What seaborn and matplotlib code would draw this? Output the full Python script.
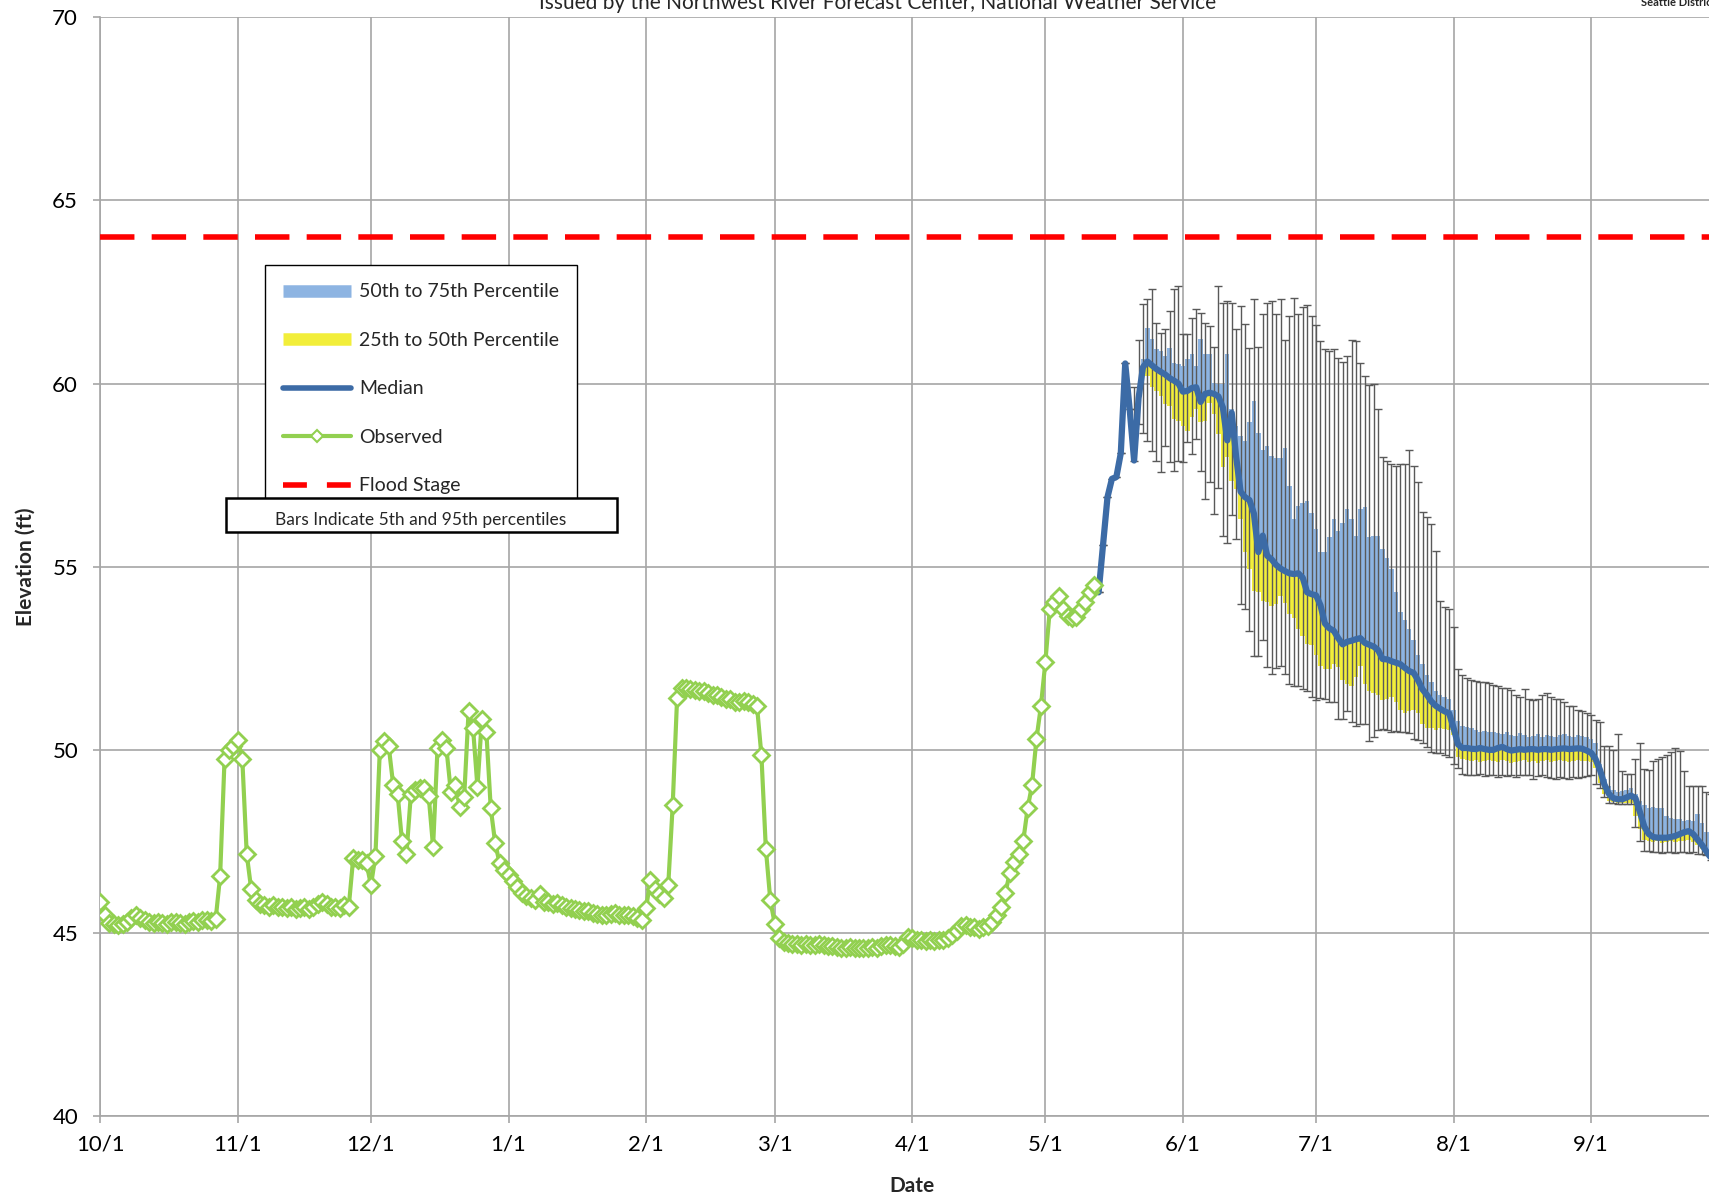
import pandas as pd
import matplotlib
matplotlib.use("Agg")
import matplotlib.pyplot as plt
from matplotlib.lines import Line2D
from matplotlib.patches import Rectangle
import seaborn as sns

# observed stage (ft), one reading a day from 10/1/2011
obs_start = "2011-10-01"
observed = [
    45.85, 45.5, 45.28, 45.25, 45.22, 45.25, 45.3, 45.42, 45.5, 45.4,
    45.35, 45.3, 45.28, 45.3, 45.28, 45.25, 45.3, 45.3, 45.28, 45.25,
    45.3, 45.32, 45.3, 45.35, 45.35, 45.32, 45.38, 46.55, 49.75, 50.0,
    50.1, 50.28, 49.75, 47.15, 46.2, 45.9, 45.8, 45.75, 45.72, 45.75,
    45.7, 45.72, 45.68, 45.7, 45.65, 45.68, 45.7, 45.65, 45.7, 45.8,
    45.85, 45.8, 45.72, 45.7, 45.68, 45.75, 45.72, 47.05, 47.0, 46.98,
    46.9, 46.3, 47.1, 50.0, 50.25, 50.1, 49.05, 48.8, 47.5, 47.15,
    48.8, 48.9, 48.95, 48.95, 48.75, 47.35, 50.05, 50.28, 50.05, 48.85,
    49.05, 48.45, 48.7, 51.05, 50.6, 48.98, 50.85, 50.5, 48.4, 47.45,
    46.9, 46.72, 46.58, 46.42, 46.25, 46.1, 46.0, 45.95, 45.9, 46.05,
    45.85, 45.85, 45.8, 45.82, 45.75, 45.7, 45.68, 45.65, 45.62, 45.6,
    45.6, 45.55, 45.52, 45.5, 45.5, 45.52, 45.55, 45.5, 45.5, 45.48,
    45.45, 45.42, 45.35, 45.68, 46.45, 46.2, 46.05, 45.95, 46.3, 48.48,
    51.42, 51.7, 51.68, 51.65, 51.62, 51.6, 51.6, 51.55, 51.5, 51.5,
    51.45, 51.4, 51.38, 51.3, 51.3, 51.32, 51.3, 51.25, 51.2, 49.85,
    47.3, 45.9, 45.25, 44.85, 44.75, 44.72, 44.7, 44.7, 44.68, 44.7,
    44.68, 44.66, 44.7, 44.68, 44.65, 44.63, 44.62, 44.6, 44.6, 44.62,
    44.6, 44.6, 44.58, 44.6, 44.62, 44.6, 44.65, 44.68, 44.66, 44.65,
    44.62, 44.7, 44.9, 44.85, 44.8, 44.8, 44.78, 44.8, 44.78, 44.8,
    44.82, 44.85, 44.95, 45.05, 45.2, 45.22, 45.15, 45.15, 45.12, 45.15,
    45.2, 45.3, 45.5, 45.7, 46.1, 46.65, 46.95, 47.15, 47.5, 48.4,
    49.05, 50.3, 51.2, 52.4, 53.85, 54.05, 54.2, 53.85, 53.65, 53.6,
    53.62, 53.85, 54.05, 54.3, 54.5,
]

# ensemble forecast percentiles, one value a day from 5/13/2012
fcst_start = "2012-05-13"
median = [
    54.3, 55.6, 56.9, 57.4, 57.45, 58.1, 60.55, 59.3, 57.9,
    59.6, 60.45, 60.6, 60.5, 60.4, 60.32, 60.25, 60.15, 60.08, 60.0,
    59.78, 59.8, 59.88, 59.9, 59.5, 59.72, 59.75, 59.72, 59.65, 59.35,
    58.45, 59.2, 58.0, 57.05, 56.9, 56.82, 56.45, 55.4, 55.85, 55.3,
    55.2, 55.05, 54.95, 54.88, 54.82, 54.8, 54.82, 54.7, 54.3, 54.25,
    54.22, 53.95, 53.45, 53.32, 53.25, 53.05, 52.88, 52.95, 52.98, 53.02,
    53.05, 52.92, 52.87, 52.82, 52.72, 52.48, 52.47, 52.42, 52.38, 52.34,
    52.24, 52.15, 52.1, 51.9, 51.65, 51.5, 51.32, 51.2, 51.12, 51.05,
    51.0, 50.6, 50.15, 50.05, 50.05, 50.03, 50.02, 50.05, 50.02, 50.0,
    50.0, 50.05, 50.08, 50.02, 49.98, 50.0, 50.02, 50.0, 50.02, 50.02,
    50.0, 50.02, 50.02, 50.0, 50.02, 50.03, 50.04, 50.02, 50.03, 50.04,
    50.03, 49.98, 49.92, 49.75, 49.45, 49.05, 48.8, 48.68, 48.65, 48.65,
    48.7, 48.75, 48.68, 48.3, 47.9, 47.7, 47.62, 47.6, 47.6, 47.6,
    47.62, 47.65, 47.7, 47.75, 47.78, 47.7, 47.55, 47.4, 47.22, 47.05,
]
p75 = [
    54.3, 55.6, 56.9, 57.4, 57.45, 58.1, 60.55, 59.3, 57.9,
    59.6, 60.66, 61.53, 61.21, 60.94, 60.89, 60.75, 60.98, 60.57, 60.53,
    60.48, 60.66, 60.8, 60.48, 61.21, 60.8, 60.8, 60.03, 59.98, 59.98,
    60.8, 59.3, 58.85, 58.57, 58.44, 58.94, 59.53, 58.66, 58.2, 58.3,
    58.03, 57.98, 57.98, 58.25, 57.2, 56.3, 56.66, 56.75, 56.8, 56.48,
    56.03, 55.4, 55.4, 55.8, 56.3, 55.98, 56.2, 56.57, 56.3, 55.85,
    56.57, 56.62, 55.8, 55.85, 55.85, 55.48, 55.25, 54.94, 54.3, 53.75,
    53.55, 53.3, 53.0, 52.6, 52.35, 52.05, 51.85, 51.6, 51.5, 51.43,
    51.38, 51.1, 50.8, 50.66, 50.62, 50.6, 50.55, 50.5, 50.52, 50.48,
    50.5, 50.45, 50.42, 50.48, 50.4, 50.38, 50.45, 50.4, 50.35, 50.38,
    50.42, 50.35, 50.4, 50.38, 50.35, 50.4, 50.42, 50.38, 50.35, 50.4,
    50.38, 50.35, 50.3, 50.2, 49.6, 49.2, 49.0, 48.9, 48.85, 48.88,
    48.9, 48.95, 48.8, 48.6, 48.5, 48.42, 48.45, 48.4, 48.42, 48.2,
    48.15, 48.12, 48.1, 48.05, 48.08, 48.05, 48.25, 48.0, 47.75, 47.6,
]
p25 = [
    54.3, 55.6, 56.9, 57.4, 57.45, 58.1, 60.55, 59.3, 57.9,
    59.6, 60.2, 60.2, 59.9, 59.8, 59.66, 59.44, 59.4, 59.03, 58.98,
    58.85, 58.7, 59.1, 59.3, 58.94, 58.98, 59.48, 59.16, 58.62, 57.71,
    58.0, 57.35, 57.12, 56.3, 55.39, 54.94, 54.35, 54.3, 54.07, 54.03,
    53.94, 53.98, 54.2, 54.0, 53.7, 53.6, 53.3, 53.1, 52.9, 52.85,
    52.6, 52.3, 52.2, 52.2, 52.35, 52.25, 51.9, 51.8, 51.75, 52.0,
    52.3, 51.8, 51.6, 51.55, 51.5, 51.35, 51.4, 51.45, 51.3, 51.1,
    51.0, 51.05, 51.1, 51.0, 50.7, 50.6, 50.6, 50.55, 50.6, 50.58,
    50.55, 50.4, 49.8, 49.75, 49.72, 49.7, 49.72, 49.68, 49.7, 49.72,
    49.7, 49.68, 49.72, 49.7, 49.65, 49.68, 49.7, 49.72, 49.68, 49.7,
    49.65, 49.7, 49.72, 49.68, 49.7, 49.72, 49.7, 49.68, 49.7, 49.72,
    49.7, 49.7, 49.68, 49.5, 49.1, 48.8, 48.6, 48.58, 48.56, 48.55,
    48.56, 48.55, 48.2, 47.85, 47.55, 47.5, 47.48, 47.5, 47.45, 47.47,
    47.5, 47.48, 47.5, 47.52, 47.55, 47.48, 47.4, 47.3, 47.15, 47.02,
]
p95 = [
    54.3, 55.6, 56.9, 57.4, 57.45, 58.1, 60.55, 59.3, 59.9,
    61.2, 62.16, 62.3, 62.57, 61.66, 61.39, 61.48, 61.98, 62.57, 62.66,
    61.35, 61.35, 61.8, 62.03, 61.94, 61.66, 61.57, 61.0, 62.66, 62.2,
    62.25, 62.2, 61.48, 62.12, 61.62, 60.98, 62.3, 61.0, 61.9, 62.2,
    62.26, 61.9, 62.3, 61.2, 61.85, 62.35, 61.9, 62.1, 62.15, 61.85,
    61.6, 61.15, 60.95, 60.9, 60.95, 60.7, 60.6, 60.75, 61.2, 61.15,
    60.55, 60.2, 59.95, 60.0, 59.3, 58.0, 57.9, 57.8, 57.75, 57.8,
    57.8, 58.2, 57.75, 57.3, 56.5, 56.35, 56.16, 55.44, 54.07, 53.9,
    53.85, 53.35, 52.2, 52.05, 51.95, 51.9, 51.88, 51.85, 51.85, 51.82,
    51.78, 51.75, 51.7, 51.68, 51.62, 51.5, 51.45, 51.65, 51.38, 51.35,
    51.38, 51.5, 51.55, 51.45, 51.4, 51.4, 51.3, 51.2, 51.2, 51.1,
    51.05, 51.0, 50.95, 50.82, 50.75, 50.1, 50.1, 50.0, 50.43, 49.43,
    49.35, 49.35, 49.75, 50.2, 49.47, 49.45, 49.7, 49.75, 49.8, 49.85,
    49.95, 50.06, 49.97, 49.43, 49.02, 49.0, 49.02, 49.0, 48.84, 48.8,
]
p5 = [
    54.3, 55.6, 56.9, 57.4, 57.45, 58.1, 60.55, 59.3, 57.9,
    58.9, 58.66, 58.44, 58.16, 57.89, 57.59, 58.3, 57.86, 57.62, 57.89,
    57.86, 58.4, 58.07, 58.48, 57.62, 56.85, 57.3, 56.44, 57.16, 55.85,
    55.66, 56.4, 55.75, 53.98, 53.84, 53.25, 52.57, 52.57, 53.0, 52.25,
    52.07, 52.24, 52.3, 52.06, 51.8, 51.74, 51.74, 51.66, 51.6, 51.45,
    51.35, 51.42, 51.4, 51.3, 51.3, 50.85, 50.83, 51.05, 50.75, 50.66,
    50.7, 50.7, 50.25, 50.35, 50.55, 50.57, 50.55, 50.5, 50.52, 50.5,
    50.48, 50.45, 50.3, 50.28, 50.2, 50.07, 49.95, 49.9, 49.9, 49.85,
    49.8, 49.6, 49.5, 49.35, 49.32, 49.3, 49.3, 49.35, 49.28, 49.3,
    49.3, 49.25, 49.3, 49.28, 49.3, 49.25, 49.3, 49.32, 49.3, 49.2,
    49.28, 49.3, 49.25, 49.22, 49.2, 49.25, 49.22, 49.2, 49.25, 49.22,
    49.25, 49.28, 49.3, 49.06, 48.95, 48.7, 48.56, 48.55, 48.52, 48.52,
    48.52, 48.52, 47.88, 47.52, 47.25, 47.25, 47.2, 47.2, 47.18, 47.2,
    47.2, 47.18, 47.2, 47.2, 47.18, 47.2, 47.15, 47.15, 47.12, 47.0,
]

flood_stage = 64.0
month_ticks = pd.date_range("2011-10-01", "2012-09-01", freq="MS")

obs = pd.DataFrame({"date": pd.date_range(obs_start, periods=len(observed), freq="D"),
                    "stage": observed})
fc = pd.DataFrame({"date": pd.date_range(fcst_start, periods=len(median), freq="D"),
                   "median": median, "p25": p25, "p75": p75, "p5": p5, "p95": p95})

green = "#92D050"
blue = "#3C6BA6"
light_blue = "#8DB4E2"
yellow = "#F2EE3A"
grey = "#A6A6A6"

sns.set_theme(style="white")
plt.rcParams["font.family"] = ["Lato", "DejaVu Sans"]

fig = plt.figure(figsize=(17.09, 11.98), dpi=100)
ax = fig.add_axes([0.0587, 0.0684, 0.9502, 0.9171])

# percentile bars: 25th-50th in yellow, 50th-75th in blue
ax.bar(fc["date"], fc["median"] - fc["p25"], bottom=fc["p25"], width=1.0,
       color=yellow, linewidth=0, zorder=2)
ax.bar(fc["date"], fc["p75"] - fc["median"], bottom=fc["median"], width=1.0,
       color=light_blue, linewidth=0, zorder=2)
# 5th / 95th whiskers
ax.errorbar(fc["date"], fc["median"],
            yerr=[fc["median"] - fc["p5"], fc["p95"] - fc["median"]],
            fmt="none", ecolor="#595959", elinewidth=1.0, capsize=3.2,
            capthick=1.0, zorder=3)

sns.lineplot(data=fc, x="date", y="median", color=blue, linewidth=4.5,
             ax=ax, zorder=4)
sns.lineplot(data=obs, x="date", y="stage", color=green, linewidth=3.0,
             marker="D", markersize=8.5, markerfacecolor="white",
             markeredgecolor=green, markeredgewidth=2.0, ax=ax, zorder=5)

ax.axhline(flood_stage, color="red", linewidth=4, dashes=(6.2, 3.1), zorder=4)

ax.set_xlim(pd.Timestamp("2011-10-01"), pd.Timestamp("2012-10-01"))
ax.set_ylim(40, 70)
ax.set_yticks(range(40, 71, 5))
ax.set_xticks(month_ticks)
ax.set_xticklabels([f"{d.month}/{d.day}" for d in month_ticks])

ax.grid(True, color=grey, linewidth=1.2)
ax.set_axisbelow(True)
for side in ["top", "right"]:
    ax.spines[side].set_visible(False)
for side in ["left", "bottom"]:
    ax.spines[side].set_color(grey)
    ax.spines[side].set_linewidth(1.2)
ax.tick_params(axis="both", which="major", bottom=True, left=True,
               direction="out", length=5, width=1.2, color=grey,
               labelsize=16, labelcolor="black")
ax.tick_params(axis="y", pad=11)
ax.tick_params(axis="x", pad=8)

ax.set_xlabel("Date", fontsize=15, fontweight="bold")
ax.set_ylabel("Elevation (ft)", fontsize=15, fontweight="bold")
ax.xaxis.set_label_coords(0.5, -0.055)
ax.yaxis.set_label_coords(-0.040, 0.5)

handles = [
    Line2D([], [], color=light_blue, linewidth=9, solid_capstyle="butt"),
    Line2D([], [], color=yellow, linewidth=9, solid_capstyle="butt"),
    Line2D([], [], color=blue, linewidth=4, solid_capstyle="round"),
    Line2D([], [], color=green, linewidth=3, marker="D", markersize=6,
           markerfacecolor="white", markeredgecolor=green, markeredgewidth=1.5),
    Line2D([], [], color="red", linewidth=4, dashes=(4.3, 3.6)),
]
labels = ["50th to 75th Percentile", "25th to 50th Percentile", "Median",
          "Observed", "Flood Stage"]
leg = ax.legend(handles, labels, loc="upper left",
                bbox_to_anchor=(265 / 1709, 1 - 265 / 1198),
                bbox_transform=fig.transFigure, borderaxespad=0,
                frameon=True, fancybox=False, edgecolor="black",
                framealpha=1, fontsize=14, handlelength=3.48,
                handletextpad=0.4, labelspacing=1.62, borderpad=0.95)
leg.get_frame().set_linewidth(1.0)

fig.patches.append(Rectangle((226 / 1709, 1 - 532 / 1198), 391 / 1709, 34 / 1198,
                             transform=fig.transFigure, facecolor="white",
                             edgecolor="black", linewidth=1.8, zorder=10))
fig.text(421 / 1709, 1 - 520 / 1198, "Bars Indicate 5th and 95th percentiles",
         ha="center", va="center", fontsize=12.5, zorder=11)

fig.text(0.5137, 1 - 8.7 / 1198,
         "Issued by the Northwest River Forecast Center, National Weather Service",
         ha="center", va="baseline", fontsize=15)
fig.text(0.9603, 1 - 3 / 1198, "Seattle District", ha="left", va="center",
         fontsize=8, fontweight="bold")

fig.savefig("out.png", dpi=100)
